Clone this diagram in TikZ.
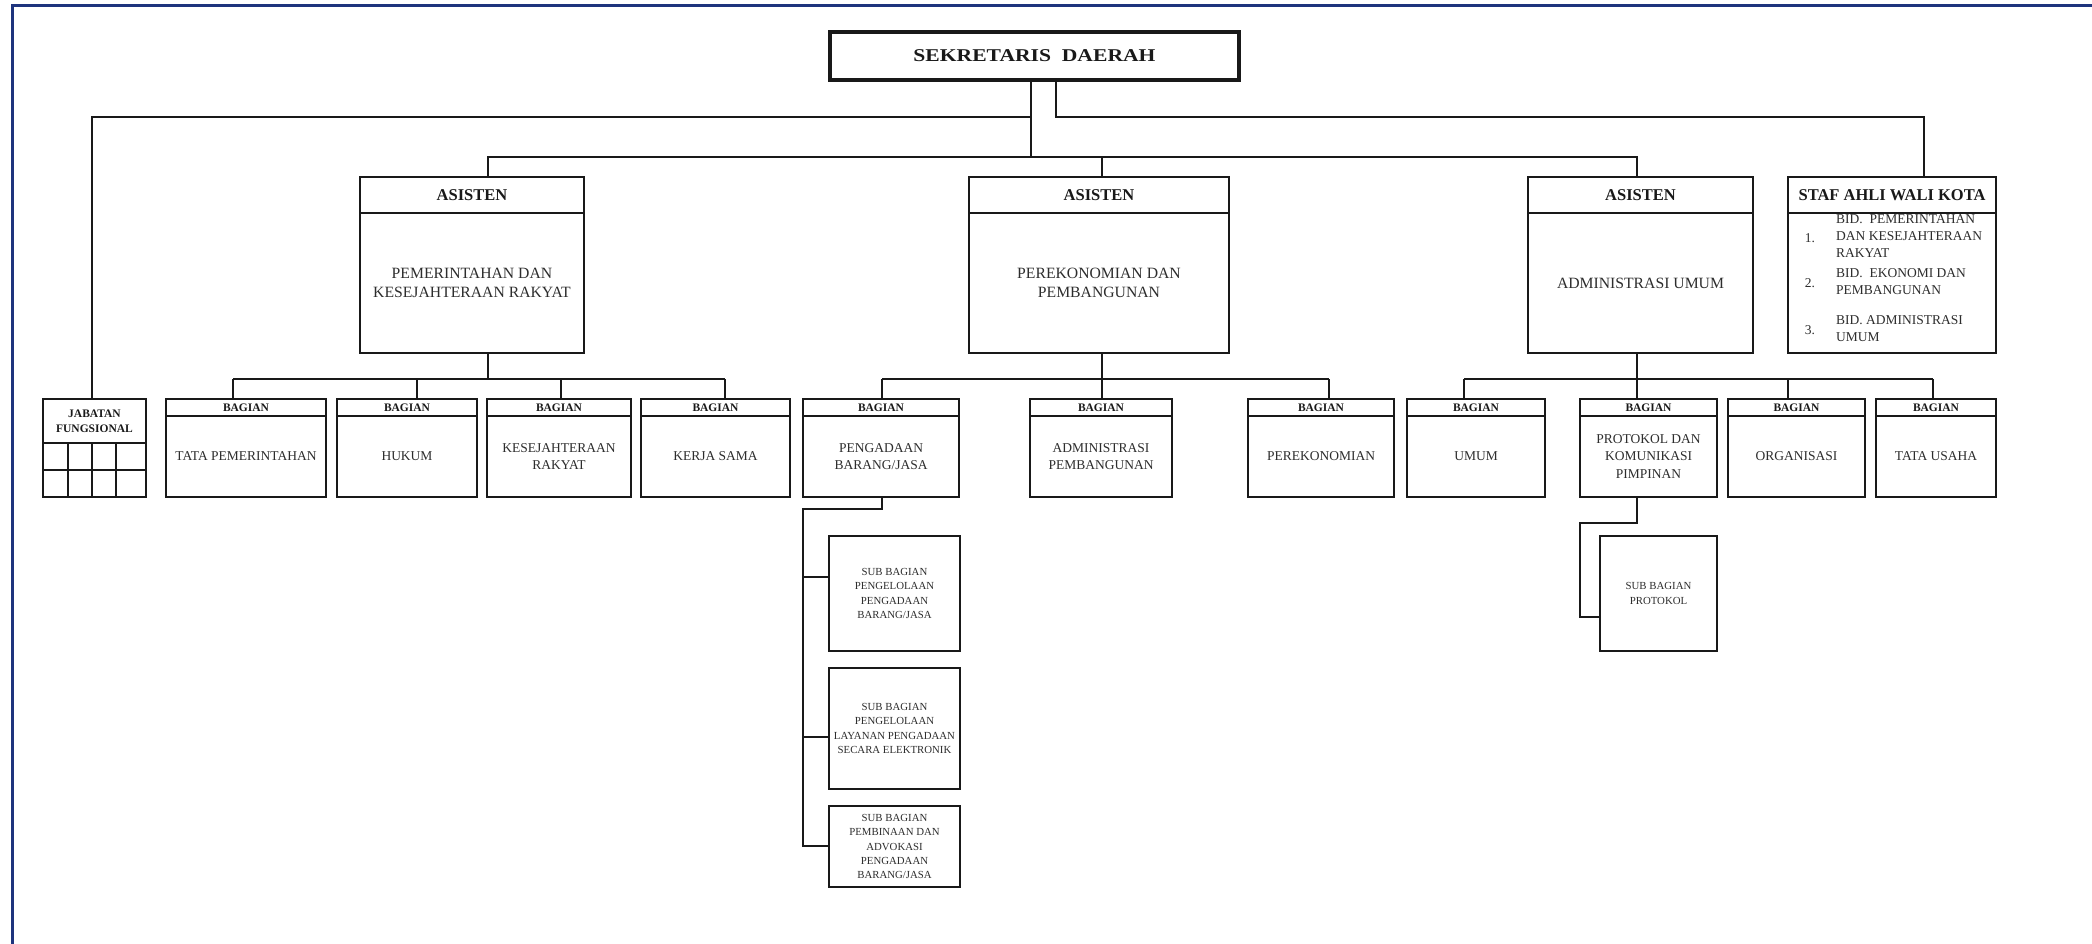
\documentclass[tikz,border=0pt]{standalone}
\usepackage{fontspec}
\setmainfont{Liberation Serif}
\usepackage{graphicx}
\definecolor{navy}{RGB}{30,52,125}
\definecolor{ink}{RGB}{25,25,25}
\definecolor{txt}{RGB}{45,45,45}
\tikzset{
  bx/.style={draw=ink, line width=1.8pt, inner sep=0pt, outer sep=0pt, align=center, text=txt},
  hdA/.style={font=\bfseries\fontsize{16.5}{19}\selectfont, text=ink},
  bodyA/.style={font=\fontsize{15.7}{19.5}\selectfont},
  hdB/.style={font=\bfseries\fontsize{11.5}{15}\selectfont, text=ink},
  bodyB/.style={font=\fontsize{13.5}{17.5}\selectfont},
  subtx/.style={font=\fontsize{10.8}{14.2}\selectfont},
  stftx/.style={font=\fontsize{13.5}{17}\selectfont, text=txt, inner sep=0pt, align=left},
  ln/.style={draw=ink, line width=1.8pt},
}
\newcommand\asbox[5]{%
  \node[bx,hdA,anchor=north west,minimum width={(#3-#2)*1pt},minimum height=36pt] (#1h) at (#2,177) {#4};
  \node[bx,bodyA,anchor=north west,minimum width={(#3-#2)*1pt},minimum height=140pt] (#1) at (#2,213) {#5};}
\newcommand\bagbox[5]{%
  \node[bx,hdB,anchor=north west,minimum width={(#3-#2)*1pt},minimum height=17pt] (#1h) at (#2,399) {BAGIAN};
  \node[bx,bodyB,anchor=north west,minimum width={(#3-#2)*1pt},minimum height=81pt] (#1) at (#2,416) {#5};
  \coordinate (#1x) at (#4,379);
  \draw[ln] (#1x) -- (#1x |- #1h.north);}
\begin{document}
\begin{tikzpicture}[x=1pt,y=-1pt]
\useasboundingbox (0,0) rectangle (2092,944);
\fill[white] (0,0) rectangle (2092,944);
% frame
\draw[navy, line width=3pt] (12,944) -- (12,5.5) -- (2092,5.5);

% head
\node[draw=ink, line width=4pt, inner sep=0pt, outer sep=0pt, anchor=north west,
  minimum width=409pt, minimum height=48pt, text=ink,
  font=\bfseries\fontsize{18}{20}\selectfont] (sek) at (830,32)
  {\scalebox{1.2}[1]{SEKRETARIS\ \ DAERAH}};

% asisten
\asbox{aa}{360}{584}{ASISTEN}{PEMERINTAHAN DAN\\KESEJAHTERAAN RAKYAT}
\asbox{ab}{969}{1229}{ASISTEN}{PEREKONOMIAN DAN\\PEMBANGUNAN}
\asbox{ac}{1528}{1753}{ASISTEN}{ADMINISTRASI UMUM}
% staf ahli
\node[bx,hdA,anchor=north west,minimum width=208pt,minimum height=36pt] (stfh) at (1788,177) {STAF AHLI WALI KOTA};
\node[bx,anchor=north west,minimum width=208pt,minimum height=140pt] (stf) at (1788,213) {};
\node[stftx] (n1) at (1810,238) {1.};
\node[stftx, anchor=west] (t1) at (1836,236) {BID.\ \ PEMERINTAHAN\\DAN KESEJAHTERAAN\\RAKYAT};
\node[stftx] (n2) at (1810,283) {2.};
\node[stftx, anchor=west] (t2) at (1836,282) {BID.\ \ EKONOMI DAN\\PEMBANGUNAN};
\node[stftx] (n3) at (1810,330) {3.};
\node[stftx, anchor=west] (t3) at (1836,328.5) {BID. ADMINISTRASI\\UMUM};

% jabatan fungsional
\node[bx,hdB,anchor=north west,minimum width=103pt,minimum height=44pt] (jfh) at (43,399) {JABATAN\\FUNGSIONAL};
\node[bx,anchor=north west,minimum width=103pt,minimum height=54pt] (jf) at (43,443) {};
\draw[ln] (jf.west) -- (jf.east);
\draw[ln] (68,443) -- (68,497);
\draw[ln] (92,443) -- (92,497);
\draw[ln] (116,443) -- (116,497);

% top connectors
\coordinate (dA1) at (488,157);
\coordinate (dA2) at (1102,157);
\coordinate (dA3) at (1637,157);
\coordinate (sJ) at (1031,117);
\coordinate (jJ) at (92,117);
\coordinate (sS) at (1056,117);
\coordinate (stJ) at (1924,117);
\draw[ln] (dA1 |- aah.north) -- (dA1) -- (dA3) -- (dA3 |- ach.north);
\draw[ln] (dA2) -- (dA2 |- abh.north);
\draw[ln] (sJ |- sek.south) -- (sJ |- dA1);
\draw[ln] (jJ |- jfh.north) -- (jJ) -- (sJ);
\draw[ln] (sS |- sek.south) -- (sS) -- (stJ) -- (stJ |- stfh.north);

% bagian
\bagbox{tp}{166}{326}{233}{TATA PEMERINTAHAN}
\bagbox{hk}{337}{477}{417}{HUKUM}
\bagbox{kr}{487}{631}{561}{KESEJAHTERAAN\\RAKYAT}
\bagbox{ks}{641}{790}{725}{KERJA SAMA}
\bagbox{pb}{803}{959}{882}{PENGADAAN\\BARANG/JASA}
\bagbox{ap}{1030}{1172}{1102}{ADMINISTRASI\\PEMBANGUNAN}
\bagbox{pe}{1248}{1394}{1329}{PEREKONOMIAN}
\bagbox{um}{1407}{1545}{1464}{UMUM}
\bagbox{pk}{1580}{1717}{1637}{PROTOKOL DAN\\KOMUNIKASI\\PIMPINAN}
\bagbox{or}{1728}{1865}{1788}{ORGANISASI}
\bagbox{tu}{1876}{1996}{1933}{TATA USAHA}

\draw[ln] (tpx) -- (ksx);
\draw[ln] (dA1 |- aa.south) -- (dA1 |- tpx);
\draw[ln] (pbx) -- (pex);
\draw[ln] (dA2 |- ab.south) -- (dA2 |- pbx);
\draw[ln] (umx) -- (tux);
\draw[ln] (dA3 |- ac.south) -- (dA3 |- umx);

% sub bagian pengadaan
\node[bx,subtx,anchor=north west,minimum width=131pt,minimum height=115pt] (s1) at (829,536) {SUB BAGIAN\\PENGELOLAAN\\PENGADAAN\\BARANG/JASA};
\node[bx,subtx,anchor=north west,minimum width=131pt,minimum height=121pt] (s2) at (829,668) {SUB BAGIAN\\PENGELOLAAN\\LAYANAN PENGADAAN\\SECARA ELEKTRONIK};
\node[bx,subtx,anchor=north west,minimum width=131pt,minimum height=81pt] (s3) at (829,806) {SUB BAGIAN\\PEMBINAAN DAN\\ADVOKASI\\PENGADAAN\\BARANG/JASA};
\coordinate (pbd) at (882,509);
\coordinate (sp0) at (803,509);
\coordinate (sp1) at (803,577);
\coordinate (sp2) at (803,737);
\coordinate (sp3) at (803,846);
\draw[ln] (pbd |- pb.south) -- (pbd) -- (sp0) -- (sp3) -- (sp3 -| s3.west);
\draw[ln] (sp1) -- (sp1 -| s1.west);
\draw[ln] (sp2) -- (sp2 -| s2.west);

% sub bagian protokol
\node[bx,subtx,anchor=north west,minimum width=117pt,minimum height=115pt] (ps) at (1600,536) {SUB BAGIAN\\PROTOKOL};
\coordinate (pkd) at (1637,523);
\coordinate (pk0) at (1580,523);
\coordinate (pk1) at (1580,617);
\draw[ln] (pkd |- pk.south) -- (pkd) -- (pk0) -- (pk1) -- (pk1 -| ps.west);
\end{tikzpicture}
\end{document}
